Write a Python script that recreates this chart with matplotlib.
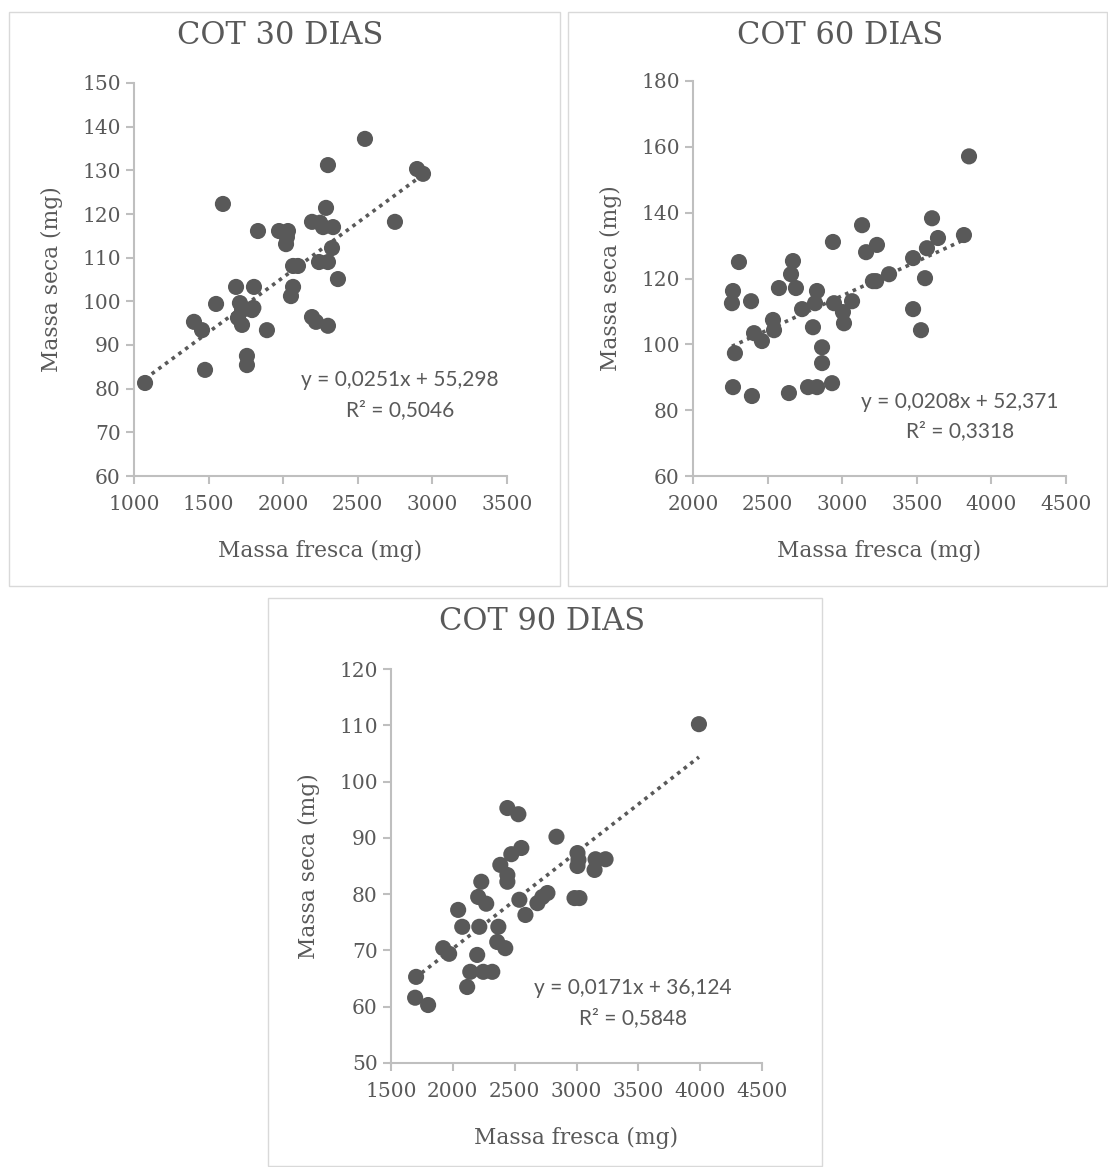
import numpy as np
import matplotlib
matplotlib.use('Agg')
import matplotlib.pyplot as plt
from matplotlib.patches import Rectangle

# COT 30 dias
fresca_30 = [1074, 1402, 1456, 1476, 1550, 1596, 1684, 1710, 1724, 1697, 1724, 1791,
             1800, 1804, 1757, 1757, 1831, 1891, 1972, 2032, 2025, 2019, 2052, 2066,
             2066, 2099, 2193, 2193, 2220, 2240, 2247, 2267, 2287, 2300, 2300, 2300,
             2327, 2334, 2367, 2548, 2749, 2897, 2937]
seca_30 = [81.3, 95.3, 93.4, 84.3, 99.4, 122.3, 103.3, 99.6, 98.0, 96.2, 94.6, 98.0,
           98.5, 103.3, 87.5, 85.4, 116.1, 93.4, 116.1, 116.1, 114.7, 113.1, 101.2, 103.3,
           108.1, 108.1, 118.2, 96.4, 95.3, 109.0, 118.0, 117.0, 121.4, 131.2, 109.0, 94.4,
           112.2, 117.0, 105.1, 137.2, 118.2, 130.3, 129.2]

# COT 60 dias
fresca_60 = [3850, 3602, 3133, 2938, 3233, 3160, 3816, 3642, 3568, 3475, 3314, 3206,
             3227, 3555, 2308, 2670, 2657, 2690, 2576, 2268, 2261, 2389, 2831, 2818,
             2731, 3066, 2945, 3005, 3012, 3475, 3528, 2536, 2543, 2409, 2462, 2804,
             2281, 2865, 2865, 2268, 2395, 2643, 2771, 2831, 2932]
seca_60 = [157.1, 138.3, 136.2, 131.1, 130.2, 128.0, 133.2, 132.3, 129.2, 126.2, 121.3, 119.2,
           119.2, 120.1, 125.0, 125.3, 121.3, 117.1, 117.1, 116.2, 112.5, 113.1, 116.2, 112.5,
           110.7, 113.1, 112.5, 109.8, 106.4, 110.7, 104.3, 107.4, 104.3, 103.4, 101.0, 105.2,
           97.3, 99.1, 94.3, 87.0, 84.3, 85.2, 87.0, 87.0, 88.2]

# COT 90 dias
fresca_90 = [3990, 2441, 2530, 2838, 2554, 2473, 2384, 2441, 2441, 2230, 3008, 3016,
             3008, 3154, 3235, 3146, 2205, 2538, 2765, 2724, 2984, 3024, 2270, 2043,
             2587, 2684, 2076, 2214, 2368, 2359, 2424, 1922, 1970, 2197, 2141, 2246,
             2319, 2116, 1703, 1695, 1800]
seca_90 = [110.2, 95.3, 94.2, 90.2, 88.2, 87.1, 85.2, 83.4, 82.2, 82.2, 87.3, 86.1,
           85.0, 86.2, 86.2, 84.3, 79.5, 79.0, 80.2, 79.5, 79.3, 79.3, 78.3, 77.2,
           76.3, 78.4, 74.2, 74.2, 74.2, 71.5, 70.4, 70.4, 69.4, 69.2, 66.2, 66.2,
           66.2, 63.5, 65.3, 61.6, 60.3]

titulos = ["COT 30 DIAS", "COT 60 DIAS", "COT 90 DIAS"]
coef = [(0.0251, 55.298), (0.0208, 52.371), (0.0171, 36.124)]
equacoes = [("y = 0,0251x + 55,298", "R² = 0,5046"),
            ("y = 0,0208x + 52,371", "R² = 0,3318"),
            ("y = 0,0171x + 36,124", "R² = 0,5848")]

GREY = '#595959'
AXIS = '#BFBFBF'
SERIF = 'DejaVu Serif'

W, H = 1108, 1167
fig = plt.figure(figsize=(W / 100, H / 100), dpi=100)


def fx(px):
    return px / W


def fy(py):
    return 1 - py / H


# panel frames (pixel boxes)
for (x0, y0, x1, y1) in [(9, 12, 560, 586), (568, 12, 1107, 586), (268, 598, 822, 1166)]:
    fig.patches.append(Rectangle((fx(x0), fy(y1)), fx(x1 - x0), (y1 - y0) / H,
                                 transform=fig.transFigure, fill=False,
                                 edgecolor='#D9D9D9', linewidth=1))

# axes boxes in pixels: left, top, right, bottom
boxes = [(134, 83, 507, 476), (693, 81, 1066, 476), (391, 669, 762, 1063)]
xlims = [(1000, 3500), (2000, 4500), (1500, 4500)]
ylims = [(60, 150), (60, 180), (50, 120)]
xsteps = [500, 500, 500]
ysteps = [10, 20, 10]
titulo_pos = [(280, 36), (840, 35), (542, 622)]
eq_pos = [(2783, 82.0, 75.1), (3790, 82.4, 73.6), (3454, 63.3, 58.0)]
dados = [(fresca_30, seca_30), (fresca_60, seca_60), (fresca_90, seca_90)]

for i in range(3):
    l, t, r, b = boxes[i]
    ax = fig.add_axes([fx(l), fy(b), (r - l) / W, (b - t) / H])
    x, y = dados[i]
    ax.scatter(x, y, s=135, color=GREY, edgecolors='none', zorder=3)

    m, c = coef[i]
    xs = np.array([min(x), max(x)])
    ax.plot(xs, m * xs + c, color=GREY, linewidth=2.6, linestyle=(0, (1, 1.3)), zorder=2)

    ax.set_xlim(*xlims[i])
    ax.set_ylim(*ylims[i])
    ax.set_xticks(np.arange(xlims[i][0], xlims[i][1] + 1, xsteps[i]))
    ax.set_yticks(np.arange(ylims[i][0], ylims[i][1] + 1, ysteps[i]))

    for s in ['top', 'right']:
        ax.spines[s].set_visible(False)
    for s in ['left', 'bottom']:
        ax.spines[s].set_color(AXIS)
        ax.spines[s].set_linewidth(1.5)
    ax.tick_params(colors=AXIS, labelcolor=GREY, length=6, width=1.5, labelsize=14.5)
    ax.tick_params(axis='x', pad=8)
    for lab in ax.get_xticklabels() + ax.get_yticklabels():
        lab.set_family(SERIF)

    ax.set_xlabel("Massa fresca (mg)", fontsize=15.7, color=GREY, family=SERIF, labelpad=18)
    ax.set_ylabel("Massa seca (mg)", fontsize=15.7, color=GREY, family=SERIF, labelpad=14)

    ex, ey1, ey2 = eq_pos[i]
    ax.text(ex, ey1, equacoes[i][0], ha='center', va='center', fontsize=15,
            color=GREY, family='Lato')
    ax.text(ex, ey2, equacoes[i][1], ha='center', va='center', fontsize=15,
            color=GREY, family='Lato')

    tx, ty = titulo_pos[i]
    fig.text(fx(tx), fy(ty), titulos[i], ha='center', va='center', fontsize=22,
             color=GREY, family=SERIF)

fig.savefig('out.png', dpi=100)
